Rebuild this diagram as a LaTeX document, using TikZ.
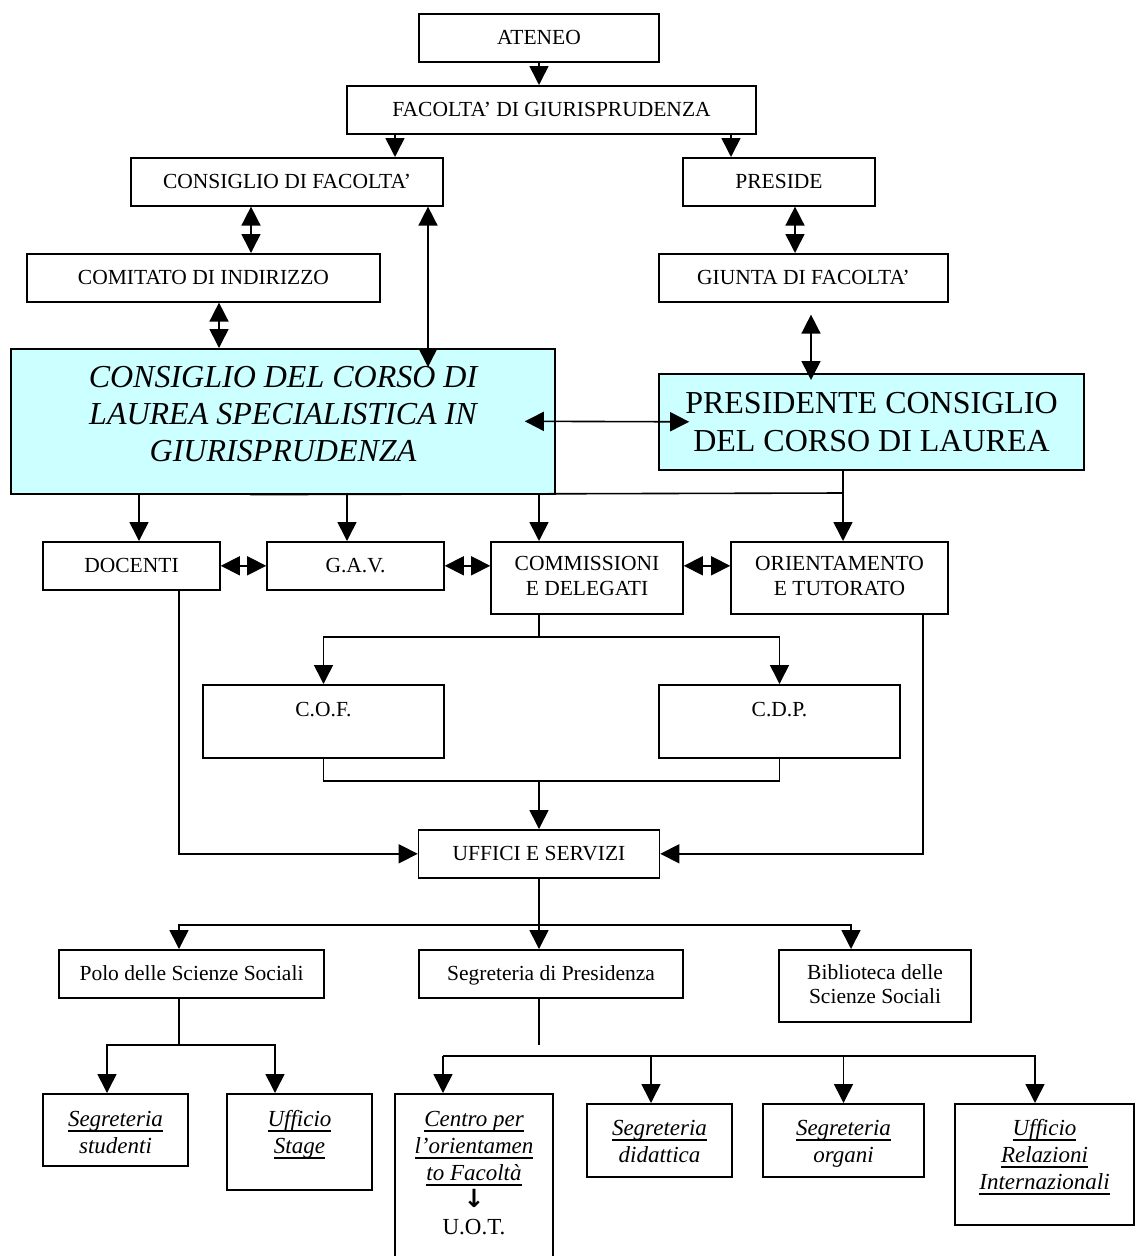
\documentclass[tikz,border=0pt]{standalone}
\usepackage{fontspec}
\setmainfont{Liberation Serif}
\newfontfamily\arrowfont{DejaVu Sans}
\usetikzlibrary{arrows.meta}
\definecolor{paleblue}{HTML}{CCFFFF}
\newcommand{\boxlines}[1]{\begin{tabular}[t]{@{}c@{}}#1\end{tabular}}
\newsavebox{\ulbox}
\newcommand{\uln}[1]{\sbox{\ulbox}{#1}\rlap{\rule[-4.8pt]{\wd\ulbox}{1.3pt}}\usebox{\ulbox}}
\tikzset{
  unit/.style={draw, line width=1.6pt, anchor=north, inner sep=0pt, font=\fontsize{21.5pt}{25pt}\selectfont},
  council/.style={unit, fill=paleblue, font=\fontsize{32pt}{37pt}\selectfont},
  office/.style={unit, font=\fontsize{23pt}{27pt}\selectfont\itshape},
  boxsize/.style n args={3}{minimum width=#1, text height=#2, text depth=#3},
  wire/.style={line width=1.6pt},
  link/.style={wire, -{Triangle[width=19pt,length=19pt]}},
  twoway/.style={wire, {Triangle[width=19pt,length=19pt]}-{Triangle[width=19pt,length=19pt]}},
}

\begin{document}
\begin{tikzpicture}[x=1pt,y=-1pt]
\useasboundingbox (0,0) rectangle (1136,1256);
\fill[white] (0,0) rectangle (1136,1256);
\clip (0,0) rectangle (1136,1256);
% the nodes
\node[unit, boxsize={240pt}{31pt}{17pt}] (ateneo) at (539,13) {ATENEO};
\node[unit, boxsize={409pt}{31pt}{17pt}] (facolta) at (551.5,85) {FACOLTA’ DI GIURISPRUDENZA};
\node[unit, boxsize={312pt}{31pt}{17pt}] (cdf) at (287,157) {CONSIGLIO DI FACOLTA’};
\node[unit, boxsize={192pt}{31pt}{17pt}] (preside) at (779,157) {PRESIDE};
\node[unit, boxsize={353pt}{31pt}{17pt}] (comitato) at (203.5,253) {COMITATO DI INDIRIZZO};
\node[unit, boxsize={289pt}{31pt}{17pt}] (giunta) at (803.5,253) {GIUNTA DI FACOLTA’};
\node[council, boxsize={544pt}{39pt}{106pt}] (ccl) at (283,348) {\itshape\boxlines{CONSIGLIO DEL CORSO DI\\LAUREA SPECIALISTICA IN\\GIURISPRUDENZA}};
\node[council, font=\fontsize{32pt}{38pt}\selectfont, boxsize={425pt}{40pt}{56pt}] (pres) at (871.5,373) {\boxlines{PRESIDENTE CONSIGLIO\\DEL CORSO DI LAUREA}};
\node[unit, boxsize={177pt}{31pt}{17pt}] (docenti) at (131.5,541) {DOCENTI};
\node[unit, boxsize={177pt}{31pt}{17pt}] (gav) at (355.5,541) {G.A.V.};
\node[unit, boxsize={192pt}{29pt}{43pt}] (comm) at (587,541) {\boxlines{COMMISSIONI\\E DELEGATI}};
\node[unit, boxsize={217pt}{29pt}{43pt}] (orient) at (839.5,541) {\boxlines{ORIENTAMENTO\\E TUTORATO}};
\node[unit, boxsize={241pt}{32pt}{41pt}] (cof) at (323.5,684) {C.O.F.};
\node[unit, boxsize={241pt}{32pt}{41pt}] (cdp) at (779.5,684) {C.D.P.};
\node[unit, boxsize={241pt}{31pt}{17pt}] (uffici) at (539,829) {UFFICI E SERVIZI};
\node[unit, boxsize={265pt}{31pt}{17pt}] (polo) at (191.5,949) {Polo delle Scienze Sociali};
\node[unit, boxsize={264pt}{31pt}{17pt}] (sdp) at (551,949) {Segreteria di Presidenza};
\node[unit, font=\fontsize{21.5pt}{24pt}\selectfont, boxsize={192pt}{30pt}{42pt}] (bibl) at (875,949) {\boxlines{Biblioteca delle\\Scienze Sociali}};
\node[office, boxsize={145pt}{33pt}{39pt}] (sstud) at (115.5,1093) {\boxlines{\uln{Segreteria}\\studenti}};
\node[office, boxsize={145pt}{33pt}{63pt}] (stage) at (299.5,1093) {\boxlines{\uln{Ufficio}\\\uln{Stage}}};
\node[office, boxsize={158pt}{33pt}{136pt}] (centro) at (474,1093) {\boxlines{\uln{Centro per}\\\uln{l’orientamen}\\\uln{to Facoltà}\\{\arrowfont\bfseries\fontsize{25pt}{27pt}\selectfont ↓}\\\upshape U.O.T.}};
\node[office, boxsize={145pt}{32pt}{41pt}] (sdid) at (659.5,1103) {\boxlines{\uln{Segreteria}\\didattica}};
\node[office, boxsize={161pt}{32pt}{41pt}] (sorg) at (843.5,1103) {\boxlines{\uln{Segreteria}\\organi}};
\node[office, boxsize={179pt}{32pt}{89pt}] (urel) at (1044.5,1103) {\boxlines{\uln{Ufficio}\\\uln{Relazioni}\\\uln{Internazionali}}};
% bends of the lines
\coordinate (busR) at (843,493);
\coordinate (jc) at (539,637);
\coordinate (jd) at (539,781);
\coordinate (je) at (539,925);
\coordinate (jp) at (179,1045);
\coordinate (js) at (539,1045);
\coordinate (jb) at (443,1056);
%drawings of vectors
\draw[link] (ateneo.south) -- ([xshift=-12.5pt]facolta.north);
\draw[link] ([xshift=-156.5pt]facolta.south) -- ([xshift=108pt]cdf.north);
\draw[link] ([xshift=179.5pt]facolta.south) -- ([xshift=-48pt]preside.north);
\draw[twoway] ([xshift=-36pt]cdf.south) -- ([xshift=47.5pt]comitato.north);
\draw[twoway] ([xshift=141pt]cdf.south) -- ([xshift=145pt,yshift=-19pt]ccl.north);
\draw[twoway] ([xshift=15.5pt]comitato.south) -- ([xshift=-64pt]ccl.north);
\draw[twoway] ([xshift=16pt]preside.south) -- ([xshift=-8.5pt]giunta.north);
\draw[twoway] ([xshift=7.5pt,yshift=-12pt]giunta.south) -- ([xshift=-60.5pt,yshift=-7pt]pres.north);
\draw[twoway] ([xshift=-31pt]ccl.east) -- ([xshift=31pt]pres.west);

\draw[link] ([xshift=-28.5pt]pres.south) -- (busR) -- ([xshift=3.5pt]orient.north);
\draw[wire] (busR) -- ([xshift=-33pt]ccl.south);
\draw[link] ([xshift=-144pt]ccl.south) -- ([xshift=7.5pt]docenti.north);
\draw[link] ([xshift=64pt]ccl.south) -- ([xshift=-8.5pt]gav.north);
\draw[link] ([xshift=256pt]ccl.south) -- ([xshift=-48pt]comm.north);

\draw[twoway] (docenti.east) -- (gav.west);
\draw[twoway] (gav.east) -- ([yshift=12pt]comm.west);
\draw[twoway] ([yshift=12pt]comm.east) -- ([yshift=12pt]orient.west);

\draw[wire] ([xshift=-48pt]comm.south) -- (jc);
\draw[link] (jc) -| (cof.north);
\draw[link] (jc) -| (cdp.north);
\draw[wire] (cof.south) |- (jd) -| (cdp.south);
\draw[link] (jd) -- (uffici.north);
\draw[link] ([xshift=47.5pt]docenti.south) |- (uffici.west);
\draw[link] ([xshift=83.5pt]orient.south) |- (uffici.east);

\draw[wire] (uffici.south) -- (je);
\draw[link] (je) -| ([xshift=-12.5pt]polo.north);
\draw[link] (je) -- ([xshift=-12pt]sdp.north);
\draw[link] (je) -| ([xshift=-24pt]bibl.north);

\draw[wire] ([xshift=-12.5pt]polo.south) -- (jp);
\draw[link] (jp) -| ([xshift=-8.5pt]sstud.north);
\draw[link] (jp) -| ([xshift=-24.5pt]stage.north);

\draw[wire] ([xshift=-12pt]sdp.south) -- (js);
\draw[link] (jb) -- ([xshift=-31pt]centro.north);
\draw[link] (jb) -| ([xshift=-8.5pt]sdid.north);
\draw[link] (jb) -| (sorg.north);
\draw[link] (jb) -| ([xshift=-9.5pt]urel.north);
\end{tikzpicture}
\end{document}
